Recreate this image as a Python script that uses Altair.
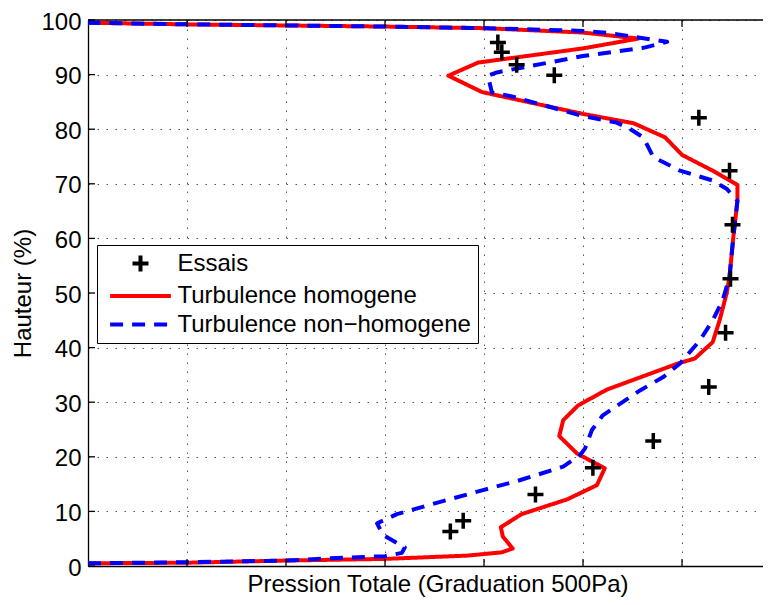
import altair as alt
import pandas as pd

FONT = "Liberation Sans"

# ---- data (x in graduations of 500 Pa, y in % height) ----
essais_x = [4.14, 4.18, 4.33, 4.71, 6.17, 6.48, 6.51, 6.49, 6.44, 6.27, 5.71, 5.10, 4.52, 3.79, 3.66]
essais_y = [95.9, 94.1, 91.8, 89.9, 82.1, 72.4, 62.5, 52.6, 42.7, 32.8, 22.9, 18.0, 13.1, 8.3, 6.3]

homog_x = [0.00, 1.00, 2.00, 3.00, 3.83, 4.18, 4.29, 4.19, 4.17, 4.38, 4.84, 5.14, 5.22, 4.94,
           4.76, 4.80, 4.95, 5.24, 5.96, 6.13, 6.31, 6.38, 6.45, 6.48, 6.52, 6.56, 6.56, 6.31,
           6.00, 5.83, 5.51, 5.00, 3.98, 3.64, 3.94, 5.00, 5.56, 5.00, 4.01, 3.00, 2.00, 1.00, 0.00]
homog_y = [0.5, 0.6, 1.0, 1.3, 1.9, 2.5, 3.2, 5.4, 7.1, 9.5, 12.2, 14.8, 17.9, 20.6,
           23.8, 26.7, 29.4, 32.3, 37.1, 38.0, 41.0, 45.0, 49.9, 53.0, 60.5, 66.9, 69.8, 72.4,
           75.3, 78.5, 81.1, 82.8, 86.8, 89.8, 92.2, 94.8, 96.6, 97.7, 98.5, 98.8, 99.0, 99.2, 99.5]

nonhomog_x = [0.00, 1.00, 2.00, 2.44, 3.00, 3.17, 3.20, 2.98, 2.92, 3.12, 3.45, 3.99, 4.36, 4.80,
              4.97, 5.02, 5.09, 5.20, 5.58, 5.81, 5.98, 6.18, 6.31, 6.41, 6.48, 6.52, 6.56, 6.45,
              6.31, 5.98, 5.71, 5.61, 5.47, 5.34, 5.00, 4.26, 4.08, 4.04, 4.13, 5.00, 5.61, 5.85,
              5.27, 5.00, 4.01, 3.00, 2.00, 1.00, 0.00]
nonhomog_y = [0.5, 0.7, 1.0, 1.4, 1.8, 2.4, 3.4, 5.7, 7.8, 9.5, 11.2, 13.9, 15.7, 18.2,
              20.3, 21.5, 24.9, 27.6, 32.2, 34.6, 37.1, 41.3, 45.0, 48.6, 53.0, 60.5, 66.9, 69.1,
              70.6, 72.4, 74.9, 78.5, 80.1, 81.2, 82.4, 86.1, 86.7, 89.8, 90.4, 93.4, 94.9, 96.0,
              97.6, 98.0, 98.5, 98.8, 99.0, 99.2, 99.5]

series_names = ["Essais", "Turbulence homogene", "Turbulence non\u2212homogene"]
series_colors = ["#000000", "#ff0000", "#0000ff"]

y_ticks = [0, 10, 20, 30, 40, 50, 60, 70, 80, 90, 100]
x_ticks = [1, 2, 3, 4, 5, 6]

# plot area: 99 px per graduation, cut at the window's right edge
W = 675
H = 546
x_max = W / 99.0

# ---- tables built from the lists ----
lines_df = pd.concat([
    pd.DataFrame({"x": homog_x, "y": homog_y, "series": series_names[1],
                  "idx": list(range(len(homog_x)))}),
    pd.DataFrame({"x": nonhomog_x, "y": nonhomog_y, "series": series_names[2],
                  "idx": list(range(len(nonhomog_x)))}),
], ignore_index=True)
pts_df = pd.DataFrame({"x": essais_x, "y": essais_y, "series": series_names[0]})
yt_df = pd.DataFrame({"t": y_ticks})
xt_df = pd.DataFrame({"t": x_ticks})

PLUS = "M-1,0H1M0,-1V1"
LONG_STROKE = "M-3.8,0H3.8"

legend = alt.Legend(
    title=None, orient="none", legendX=9, legendY=225, direction="vertical",
    labelFont=FONT, labelFontSize=24, labelColor="black", labelLimit=600, labelOffset=25,
    symbolSize=256, symbolStrokeWidth=4, symbolOffset=25, rowPadding=4.5, padding=6.5,
    strokeColor="black", fillColor="white", cornerRadius=0,
)

xscale = alt.Scale(domain=[0, x_max], nice=False, zero=False)
yscale = alt.Scale(domain=[0, 100], nice=False, zero=False)

x_axis = alt.Axis(values=x_ticks, labels=False, ticks=False, tickSize=0,
                  title="Pression Totale (Graduation 500Pa)", titleFont=FONT, titleFontSize=24,
                  titleFontWeight="normal", titleColor="black", titleX=349.5, titleY=25,
                  titleAlign="center", titleBaseline="alphabetic",
                  domainColor="black", domainWidth=1.3,
                  grid=True, gridColor="#555555", gridDash=[1.5, 7.5], gridWidth=1)
y_axis = alt.Axis(values=y_ticks, ticks=False, tickSize=0, labelFont=FONT, labelFontSize=24,
                  labelColor="black", labelPadding=7, labelOffset=2, labelFlush=False,
                  labelOverlap=False,
                  title="Hauteur (%)", titleFont=FONT, titleFontSize=24, titleFontWeight="normal",
                  titleColor="black", titleX=-58, titleY=273, titleAngle=270,
                  titleAlign="center", titleBaseline="alphabetic",
                  domainColor="black", domainWidth=1.3,
                  grid=True, gridColor="#555555", gridDash=[1.5, 7.5], gridWidth=1)

color_scale = alt.Scale(domain=series_names, range=series_colors)
dash_scale = alt.Scale(domain=series_names, range=[[1, 0], [1, 0], [13, 9]])
shape_scale = alt.Scale(domain=series_names, range=[PLUS, LONG_STROKE, LONG_STROKE])

lines = alt.Chart(lines_df).mark_line(strokeWidth=4, clip=True, strokeCap="butt",
                                      strokeJoin="round").encode(
    x=alt.X("x:Q", scale=xscale, axis=x_axis),
    y=alt.Y("y:Q", scale=yscale, axis=y_axis),
    color=alt.Color("series:N", scale=color_scale, legend=legend),
    strokeDash=alt.StrokeDash("series:N", scale=dash_scale, legend=legend),
    detail="series:N",
    order="idx:Q",
)

points = alt.Chart(pts_df).mark_point(filled=False, size=256, strokeWidth=3.5, opacity=1,
                                      clip=True).encode(
    x=alt.X("x:Q", scale=xscale),
    y=alt.Y("y:Q", scale=yscale),
    color=alt.Color("series:N", scale=color_scale, legend=legend),
    shape=alt.Shape("series:N", scale=shape_scale, legend=legend),
)

left_ticks = alt.Chart(yt_df).mark_rule(color="black", strokeWidth=1.3).encode(
    y=alt.Y("t:Q", scale=yscale), x=alt.value(0), x2=alt.value(7))
bottom_ticks = alt.Chart(xt_df).mark_rule(color="black", strokeWidth=1.3).encode(
    x=alt.X("t:Q", scale=xscale), y=alt.value(H), y2=alt.value(H - 7))
top_ticks = alt.Chart(xt_df).mark_rule(color="black", strokeWidth=1.3).encode(
    x=alt.X("t:Q", scale=xscale), y=alt.value(0), y2=alt.value(7))
top_border = alt.Chart(pd.DataFrame({"a": [0]})).mark_rule(color="black", strokeWidth=1.3).encode(
    x=alt.value(0), x2=alt.value(W), y=alt.value(0))

chart = alt.layer(lines, points, left_ticks, bottom_ticks, top_ticks, top_border).properties(
    width=W, height=H,
    autosize=alt.AutoSizeParams(type="none"),
    padding={"left": 80, "top": 12, "right": 0, "bottom": 31},
    background="white",
).configure_view(strokeWidth=0)

chart.save("out.html", embed_options={"renderer": "svg", "actions": False})
